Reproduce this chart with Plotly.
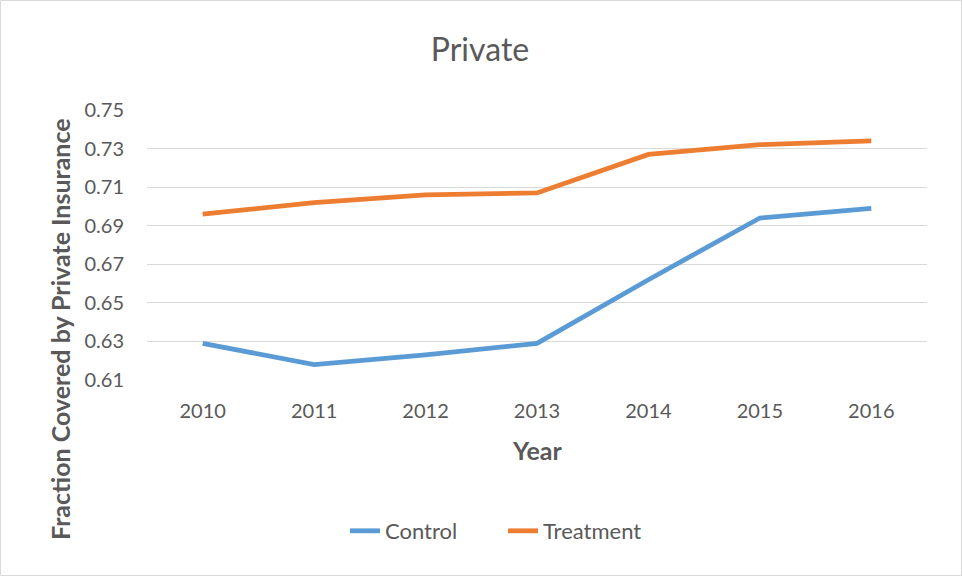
import plotly.graph_objects as go

years = ["2010", "2011", "2012", "2013", "2014", "2015", "2016"]
control = [0.629, 0.618, 0.623, 0.629, 0.662, 0.694, 0.699]
treatment = [0.696, 0.702, 0.706, 0.707, 0.727, 0.732, 0.734]
y_ticks = [0.61, 0.63, 0.65, 0.67, 0.69, 0.71, 0.73, 0.75]

W, H = 962, 576
L, R, T, B = 147, 35, 110, 196
pw, ph = W - L - R, H - T - B

def px(x):
    return (x - L) / pw

def py(y):
    return (H - B - y) / ph

FONT = "Lato, Carlito, 'Open Sans', sans-serif"
TXT = "#595959"

fig = go.Figure()
fig.add_trace(go.Scatter(x=years, y=control, mode="lines", name="Control",
                         line=dict(color="#5B9BD5", width=4.8)))
fig.add_trace(go.Scatter(x=years, y=treatment, mode="lines", name="Treatment",
                         line=dict(color="#ED7D31", width=4.8)))

fig.update_layout(
    width=W, height=H,
    margin=dict(l=L, r=R, t=T, b=B),
    paper_bgcolor="white", plot_bgcolor="white",
    font=dict(family=FONT, color=TXT, size=20),
    title=dict(text="Private", x=px(480), xanchor="center", xref="paper", y=1 - 50 / H, yanchor="middle",
               font=dict(size=32, color=TXT, family=FONT)),
    showlegend=True,
    legend=dict(orientation="h", x=px(345), xanchor="left", y=py(531), yanchor="middle",
                font=dict(size=22, color=TXT), tracegroupgap=0, entrywidth=113,
                entrywidthmode="pixels"),
    xaxis=dict(type="category", range=[-0.5, 6.5], showgrid=False, zeroline=False,
               showline=False, ticks="", tickfont=dict(size=20, color=TXT), ticklabelstandoff=17),
    yaxis=dict(range=[0.61, 0.75], tickvals=y_ticks, tickformat=".2f", showgrid=True,
               gridcolor="#D9D9D9", gridwidth=1.3, zeroline=False, showline=False, ticks="",
               tickfont=dict(size=20, color=TXT), ticklabelstandoff=22),
    annotations=[
        dict(text="<b>Year</b>", xref="paper", yref="paper", x=px(537), y=py(450),
             xanchor="center", yanchor="middle", showarrow=False, font=dict(size=25, color=TXT)),
        dict(text="<b>Fraction Covered by Private Insurance</b>", xref="paper", yref="paper",
             x=px(60), y=py(329), xanchor="center", yanchor="middle", textangle=-90,
             showarrow=False, font=dict(size=25, color=TXT)),
    ],
    shapes=[
        dict(type="rect", xref="paper", yref="paper", x0=px(0.5), x1=px(W - 0.5),
             y0=py(H - 0.5), y1=py(0.5), line=dict(color="#D9D9D9", width=1), layer="below"),
    ],
)

fig.write_html("out.html")
